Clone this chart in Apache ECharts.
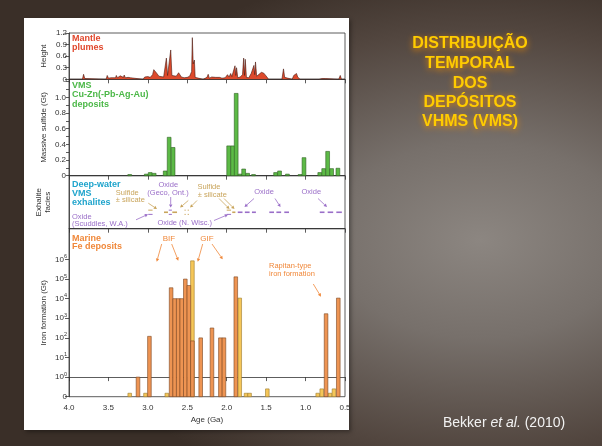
<!DOCTYPE html>
<html><head><meta charset="utf-8">
<script src="https://cdn.jsdelivr.net/npm/echarts@6/dist/echarts.min.js"></script>
<style>
html,body{margin:0;padding:0;width:602px;height:446px;overflow:hidden;}
body{background: radial-gradient(ellipse 430px 280px at 480px 240px, #8c8681 0%, #77706b 35%, #52463f 75%, #3a2f28 100%);}
#panel{position:absolute;left:24px;top:18px;width:325px;height:412px;background:#fff;box-shadow:2px 2px 4px rgba(0,0,0,0.35);}
#chart{position:absolute;left:0;top:0;width:602px;height:446px;}
</style></head><body>
<div id="panel"></div><div id="chart"></div>
<script>
// ---------- data ----------
// Mantle plume height record: [age (Ga), height]
const plume = [
 [4.0,0],[3.83,0],[3.815,0.13],[3.80,0.02],[3.78,0],
 [3.53,0],[3.515,0.1],[3.50,0.03],[3.47,0.04],[3.46,0.09],[3.445,0.03],[3.41,0.04],[3.40,0.1],[3.385,0.04],[3.36,0.04],[3.35,0.09],[3.335,0.04],[3.31,0.05],[3.30,0.11],[3.285,0.04],[3.25,0.05],[3.24,0.09],[3.22,0.04],[3.20,0],
 [3.06,0],[3.04,0.06],[3.00,0.07],[2.97,0.05],[2.94,0.12],[2.925,0.25],[2.90,0.2],[2.885,0.15],[2.86,0.08],[2.80,0.06],[2.775,0.1],[2.765,0.55],[2.75,0.1],[2.725,0.12],[2.71,0.76],[2.695,0.1],[2.67,0.06],[2.64,0.08],[2.61,0.17],[2.59,0.16],[2.575,0.06],[2.54,0.04],[2.50,0.05],[2.47,0.08],[2.445,0.2],[2.436,1.08],[2.425,0.4],[2.41,0.5],[2.40,0.05],[2.38,0],
 [2.30,0],[2.25,0.05],[2.235,0.13],[2.22,0.03],[2.19,0.06],[2.17,0.02],[2.14,0.05],[2.12,0.01],[2.09,0.05],[2.06,0.03],[2.04,0.08],[2.02,0.04],[1.99,0.12],[1.97,0.06],[1.95,0.15],[1.935,0.07],[1.92,0.12],[1.895,0.35],[1.885,0.1],[1.875,0.3],[1.86,0.04],[1.83,0.06],[1.80,0.12],[1.785,0.55],[1.775,0.1],[1.765,0.52],[1.75,0.05],[1.72,0.04],[1.69,0.15],[1.67,0.1],[1.655,0.36],[1.645,0.12],[1.635,0.45],[1.62,0.08],[1.60,0.1],[1.56,0.18],[1.53,0.16],[1.49,0.06],[1.47,0],
 [1.30,0],[1.28,0.27],[1.265,0.05],[1.25,0],
 [1.17,0],[1.15,0.1],[1.13,0.06],[1.115,0.15],[1.10,0.06],[1.085,0.05],[1.07,0],
 [0.83,0],[0.81,0.02],[0.79,0.02],[0.77,0.03],[0.75,0.02],[0.73,0],
 [0.58,0],[0.56,0.1],[0.545,0],[0.5,0]
];
// VMS massive sulfide (Gt)
const vmsAges   = [3.23, 3.02, 2.97, 2.92, 2.78, 2.73, 2.68, 1.975, 1.925, 1.88, 1.83, 1.785, 1.735, 1.66, 1.38, 1.33, 1.23, 1.07, 1.02, 0.82, 0.77, 0.72, 0.67, 0.59];
const vmsValues = [0.015,0.02, 0.04, 0.03, 0.06, 0.49, 0.36, 0.38,  0.38,  1.05, 0.02, 0.085, 0.03,  0.015,0.04, 0.06, 0.02, 0.015,0.23, 0.04, 0.09, 0.31, 0.09, 0.095];
// Iron formation (Gt), orange = BIF, yellow = GIF
const ironOrangeAges   = [3.125, 2.98, 2.705, 2.66, 2.615, 2.57, 2.525, 2.48, 2.435, 2.33, 2.187, 2.08, 2.035, 1.885, 0.74, 0.585];
const ironOrangeValues = [1, 120, 36000, 10000, 10000, 10000, 100000, 47000, 70, 100, 320, 100, 100, 130000, 1700, 10700];
const ironYellowAges   = [3.23, 3.03, 2.76, 2.435, 1.835, 1.755, 1.71, 1.485, 0.846, 0.795, 0.69, 0.64];
const ironYellowValues = [0.15, 0.15, 0.15, 850000, 10700, 0.15, 0.15, 0.25, 0.15, 0.25, 0.15, 0.25];
// Exhalite facies marks: [from age, to age, level, kind (0 oxide, 1 sulfide)]
const exhaliteMarks = [
 [2.995,2.94,0.35,1],[2.995,2.94,0.27,0],
 [2.795,2.745,0.31,1],[2.735,2.695,0.35,0],[2.735,2.695,0.27,0],[2.69,2.63,0.31,1],
 [2.535,2.52,0.35,1],[2.535,2.52,0.27,1],[2.495,2.48,0.35,1],[2.495,2.48,0.27,1],
 [2.0,1.945,0.35,1],[2.0,1.945,0.27,0],[1.93,1.89,0.31,1],
 [1.86,1.80,0.31,0],[1.77,1.71,0.31,0],[1.68,1.63,0.31,0],
 [1.46,1.40,0.31,0],[1.37,1.31,0.31,0],[1.27,1.21,0.31,0],
 [0.82,0.76,0.31,0],[0.72,0.65,0.31,0],[0.61,0.54,0.31,0]
];
const ageTicks = [4.0,3.5,3.0,2.5,2.0,1.5,1.0,0.5];
const ironTickExps = [-1,0,1,2,3,4,5,6];

// ---------- chart ----------
const FONT = '"Liberation Sans", Arial, Helvetica, sans-serif';
const C = {red:'#e0462b', green:'#4cb848', cyan:'#1fa4cc', tan:'#c9a55c', purple:'#9a6ec8', orange:'#f0883a'};
const tops = [33, 79.3, 175.7, 228.7], bottoms = [79.3, 175.7, 228.7, 396.7];
const chart = echarts.init(document.getElementById('chart'), null, {renderer:'canvas', width:602, height:446});

function barItem(width, fill, stroke, base){
  return function(params, api){
    const a = api.value(0), v = api.value(1);
    const pL = api.coord([a + width/2, v]);
    const pR = api.coord([a - width/2, base]);
    return {type:'rect', shape:{x:pL[0], y:pL[1], width:pR[0]-pL[0], height:pR[1]-pL[1]},
            style:{fill:fill, stroke:stroke, lineWidth:0.6}};
  };
}
function arrow(x1,y1,x2,y2,color){
  const ang=Math.atan2(y2-y1,x2-x1), L=3.2, W=1.7;
  const bx=x2-L*Math.cos(ang), by=y2-L*Math.sin(ang);
  const nx=-Math.sin(ang)*W, ny=Math.cos(ang)*W;
  return [{type:'line', z:100, shape:{x1:x1,y1:y1,x2:bx,y2:by}, style:{stroke:color, lineWidth:0.8}},
          {type:'polygon', z:100, shape:{points:[[x2,y2],[bx+nx,by+ny],[bx-nx,by-ny]]}, style:{fill:color}}];
}
function txt(s,x,y,color,size,bold,align,extra){
  const st = Object.assign({text:s, x:x, y:y, fill:color, font:(bold?'bold ':'')+size+'px '+FONT,
     textAlign:align||'left', align:align||'left', textVerticalAlign:'middle', verticalAlign:'middle'}, extra||{});
  return {type:'text', z:100, style:st};
}

const axisLineStyle = {color:'#333', width:0.8};
const xAxes = tops.map((t,i)=>({
  gridIndex:i, type:'value', min:0.5, max:4.0, interval:0.5, inverse:true,
  axisLine:{show:true, lineStyle:axisLineStyle},
  axisTick:{show:true, inside:false, length:4, lineStyle:axisLineStyle},
  axisLabel:{show:i===3, fontSize:8, color:'#333', fontFamily:FONT, margin:7, formatter:v=>v.toFixed(1)},
  splitLine:{show:false},
  name: i===3 ? 'Age (Ga)' : '', nameLocation:'middle', nameGap:19,
  nameTextStyle:{fontSize:8, color:'#333', fontFamily:FONT}
}));
const nameStyle = {fontSize:8, color:'#333', fontFamily:FONT};
const yAxes = [
  {gridIndex:0, type:'value', min:0, max:1.2, interval:0.3,
   axisLine:{show:true, lineStyle:axisLineStyle}, axisTick:{show:true, length:4, lineStyle:axisLineStyle},
   axisLabel:{fontSize:8, color:'#333', fontFamily:FONT, margin:2, formatter:v=>v===0?'0':v.toFixed(1)},
   splitLine:{show:false}, name:'Height', nameLocation:'middle', nameRotate:90, nameGap:21, nameTextStyle:nameStyle},
  {gridIndex:1, type:'value', min:0, max:1.23,
   axisLine:{show:true, lineStyle:axisLineStyle},
   axisTick:{show:true, length:3, lineStyle:axisLineStyle, customValues:[0,0.1,0.2,0.3,0.4,0.5,0.6,0.7,0.8,0.9,1.0,1.1,1.2]},
   axisLabel:{fontSize:8, color:'#333', fontFamily:FONT, margin:3, customValues:[0,0.2,0.4,0.6,0.8,1.0], formatter:v=>v===0?'0':v.toFixed(1)},
   splitLine:{show:false}, name:'Massive sulfide (Gt)', nameLocation:'middle', nameRotate:90, nameGap:21, nameTextStyle:nameStyle},
  {gridIndex:2, type:'value', min:0, max:1,
   axisLine:{show:true, lineStyle:axisLineStyle}, axisTick:{show:false}, axisLabel:{show:false},
   splitLine:{show:false}, name:'Exhalite\nfacies', nameLocation:'middle', nameRotate:90, nameGap:17, nameTextStyle:Object.assign({lineHeight:9}, nameStyle)},
  {gridIndex:3, type:'value', min:-1, max:7.57,
   axisLine:{show:true, lineStyle:axisLineStyle},
   axisTick:{show:true, length:4, lineStyle:axisLineStyle, customValues:ironTickExps},
   axisLabel:{fontSize:8, color:'#333', fontFamily:FONT, margin:2, customValues:ironTickExps,
     formatter:v=> v===-1 ? '0' : '10{s|'+v+'}',
     rich:{s:{fontSize:5.5, color:'#333', fontFamily:FONT, padding:[0,0,6,0]}}},
   splitLine:{show:false}, name:'Iron formation (Gt)', nameLocation:'middle', nameRotate:90, nameGap:21, nameTextStyle:nameStyle}
];

let graphics = [
  txt('Mantle',72,39,C.red,9,true), txt('plumes',72,47.7,C.red,9,true),
  txt('VMS',72,85.7,C.green,9,true), txt('Cu-Zn(-Pb-Ag-Au)',72,95,C.green,9,true), txt('deposits',72,104.3,C.green,9,true),
  txt('Deep-water',72,185,C.cyan,9,true), txt('VMS',72,193.7,C.cyan,9,true), txt('exhalites',72,202.3,C.cyan,9,true),
  txt('Sulfide',127.3,192.7,C.tan,7.5,false,'center'), txt('\u00b1 silicate',130.3,200,C.tan,7.5,false,'center'),
  txt('Oxide',168.3,185,C.purple,7.5,false,'center'), txt('(Geco, Ont.)',168,192.7,C.purple,7.5,false,'center'),
  txt('Sulfide',209,187.3,C.tan,7.5,false,'center'), txt('\u00b1 silicate',212.3,195,C.tan,7.5,false,'center'),
  txt('Oxide',264,192.3,C.purple,7.5,false,'center'), txt('Oxide',311.3,192.3,C.purple,7.5,false,'center'),
  txt('Oxide',72,216.7,C.purple,7.5), txt('(Scuddles, W.A.)',72,224.3,C.purple,7.5),
  txt('Oxide (N. Wisc.)',184.7,223.3,C.purple,7.5,false,'center'),
  txt('Marine',72,238.3,C.orange,9,true), txt('Fe deposits',72,246.3,C.orange,9,true),
  txt('BIF',169,238.3,C.orange,8,false,'center'), txt('GIF',207,238.3,C.orange,8,false,'center'),
  txt('Rapitan-type',269,266,C.orange,7.5), txt('iron formation',269,274,C.orange,7.5),
  // slide title
  ...['DISTRIBUI\u00c7\u00c3O','TEMPORAL','DOS','DEP\u00d3SITOS','VHMS (VMS)'].map((s,i)=>
     txt(s,470,[44,64,83.5,102.5,122][i],'#ffcc00',16,true,'center',
       {textShadowColor:'rgba(240,140,0,0.95)', textShadowBlur:6, textShadowOffsetY:1.5})),
  {type:'text', z:100, style:{text:'{n|Bekker }{i|et al.}{n| (2010)}', x:443, y:423, textVerticalAlign:'middle', verticalAlign:'middle',
    rich:{n:{fontSize:14, fontFamily:FONT, fill:'#f2f2f2', color:'#f2f2f2'}, i:{fontSize:14, fontStyle:'italic', fontFamily:FONT, fill:'#f2f2f2', color:'#f2f2f2'}}}}
];
const arrows = [
  [136,219.8,148,214.3,C.purple],[148.3,203.2,157,209,C.tan],[170.7,197,170.7,207.6,C.purple],
  [188.3,200.5,180,207.6,C.tan],[197,200.5,190,207.6,C.tan],
  [219,198.5,229.5,209,C.tan],[224,198.5,234.5,209,C.tan],
  [214,220.5,228,214.6,C.purple],[254,198.5,244.5,207,C.purple],[275,198.5,280.5,207,C.purple],[318,198.5,327,207,C.purple],
  [161.7,244,156.7,261.7,C.orange],[171.7,244,178.3,260.7,C.orange],
  [202.7,244,197.7,261.7,C.orange],[212,244,222.7,259.3,C.orange],
  [313.3,284,321,296.7,C.orange]
];
arrows.forEach(a=>{ graphics = graphics.concat(arrow(a[0],a[1],a[2],a[3],a[4])); });

const option = {
  animation:false,
  backgroundColor:'transparent',
  grid: tops.map((t,i)=>({left:69, top:t, width:276, height:bottoms[i]-t, show:true, borderColor:'#333', borderWidth:0.8,
                           backgroundColor:'transparent', containLabel:false, outerBoundsMode:'none'})),
  xAxis: xAxes,
  yAxis: yAxes,
  series: [
    {type:'line', xAxisIndex:0, yAxisIndex:0, data:plume, showSymbol:false, symbol:'none',
     lineStyle:{color:'#4a1a10', width:0.6}, areaStyle:{color:'#dd4a2c', opacity:1}},
    {type:'custom', xAxisIndex:1, yAxisIndex:1, data:vmsAges.map((a,i)=>[a, vmsValues[i]]),
     renderItem:barItem(0.048,'#5cba46','#2f5f22',0)},
    {type:'custom', xAxisIndex:2, yAxisIndex:2, data:exhaliteMarks,
     renderItem:function(params, api){
       const y = api.value(2), kind = api.value(3);
       const p0 = api.coord([api.value(0), y]), p1 = api.coord([api.value(1), y]);
       const dbl = exhaliteMarks[params.dataIndex][2] !== 0.31;
       return {type:'line', shape:{x1:p0[0],y1:p0[1],x2:p1[0],y2:p1[1]},
               style:{stroke: kind===1 ? C.tan : C.purple, lineWidth: dbl?1:1.6}};
     }},
    {type:'custom', xAxisIndex:3, yAxisIndex:3, data:ironYellowAges.map((a,i)=>[a, Math.log10(ironYellowValues[i])]),
     renderItem:barItem(0.046,'#f5c658','#9c7a2c',-1)},
    {type:'custom', xAxisIndex:3, yAxisIndex:3, data:ironOrangeAges.map((a,i)=>[a, Math.log10(ironOrangeValues[i])]),
     renderItem:barItem(0.046,'#ee9452','#7a4420',-1)}
  ],
  graphic: graphics
};
chart.setOption(option);
</script></body></html>
